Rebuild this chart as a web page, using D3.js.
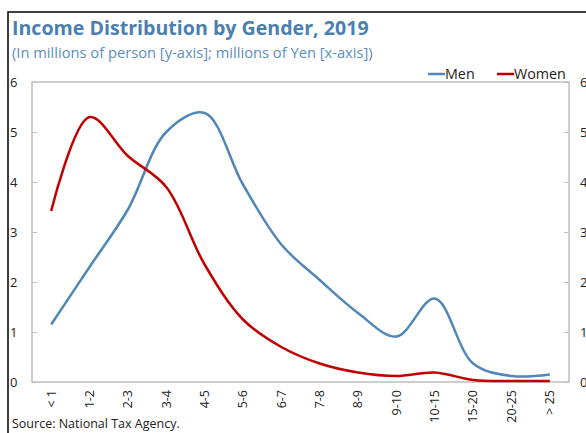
<!DOCTYPE html>
<html lang="en">
<head>
<meta charset="UTF-8">
<title>Income Distribution by Gender, 2019</title>
<script src="https://cdn.jsdelivr.net/npm/d3@7"></script>
<style>
  body { margin: 0; background: #fff; }
  svg { font-family: "Open Sans", "Noto Sans", sans-serif; }
</style>
</head>
<body>
<svg id="chart" width="586" height="433"></svg>
<script>
const categories = ["< 1", "1-2", "2-3", "3-4", "4-5", "5-6", "6-7", "7-8", "8-9", "9-10", "10-15", "15-20", "20-25", "> 25"];
const men   = [1.15, 2.30, 3.45, 5.00, 5.38, 3.95, 2.75, 2.04, 1.38, 0.91, 1.67, 0.37, 0.12, 0.15];
const women = [3.42, 5.30, 4.52, 3.90, 2.35, 1.25, 0.70, 0.37, 0.19, 0.12, 0.19, 0.04, 0.02, 0.02];
const yTicks = [0, 1, 2, 3, 4, 5, 6];

const svg = d3.select("#chart");
const plot = { left: 32, right: 569, top: 82, bottom: 382 };

// outer frame (only top/left visible)
svg.append("path")
  .attr("d", "M8,433 V12 H586")
  .attr("fill", "none")
  .attr("stroke", "#000")
  .attr("stroke-width", 1.5);

// title
svg.append("text")
  .attr("x", 12).attr("y", 35)
  .attr("fill", "#4a7fb0")
  .style("font-size", "19.6px")
  .style("font-weight", "bold")
  .text("Income Distribution by Gender, 2019");

svg.append("text")
  .attr("x", 12).attr("y", 58)
  .attr("fill", "#5b8fc0")
  .style("font-size", "14.7px")
  .text("(In millions of person [y-axis]; millions of Yen [x-axis])");

const x = d3.scaleBand().domain(categories).range([plot.left, plot.right]);
const y = d3.scaleLinear().domain([0, 6]).range([plot.bottom, plot.top]);

// plot border
svg.append("rect")
  .attr("x", plot.left).attr("y", plot.top)
  .attr("width", plot.right - plot.left).attr("height", plot.bottom - plot.top)
  .attr("fill", "none").attr("stroke", "#bfbfbf").attr("stroke-width", 1.5);

// left axis
const yl = svg.append("g")
  .attr("transform", `translate(${plot.left},0)`)
  .call(d3.axisRight(y).tickValues(yTicks).tickSize(5).tickFormat(""));
yl.select(".domain").remove();
yl.selectAll("line").attr("stroke", "#bfbfbf");
svg.append("g").selectAll("text")
  .data(yTicks).join("text")
  .attr("x", 10).attr("y", d => y(d)).attr("dy", "0.35em")
  .style("font-size", "13px").attr("fill", "#222")
  .text(d => d);

// right axis
const yr = svg.append("g")
  .attr("transform", `translate(${plot.right},0)`)
  .call(d3.axisLeft(y).tickValues(yTicks).tickSize(5).tickFormat(""));
yr.select(".domain").remove();
yr.selectAll("line").attr("stroke", "#bfbfbf");
svg.append("g").selectAll("text")
  .data(yTicks).join("text")
  .attr("x", 580).attr("y", d => y(d)).attr("dy", "0.35em")
  .style("font-size", "13px").attr("fill", "#222")
  .text(d => d);

// x axis labels
const xa = svg.append("g")
  .attr("transform", `translate(0,${plot.bottom})`)
  .call(d3.axisBottom(x).tickSize(0).tickPadding(0));
xa.select(".domain").remove();
xa.selectAll("text")
  .attr("transform", "rotate(-90)")
  .attr("x", -8).attr("y", 0).attr("dy", "0.35em")
  .attr("text-anchor", "end")
  .attr("fill", "#222")
  .style("font-size", "12.5px")
  .style("font-family", "'Open Sans', sans-serif");

// lines
const line = d3.line()
  .x((d, i) => x(categories[i]) + x.bandwidth() / 2)
  .y(d => y(d))
  .curve(d3.curveCatmullRom.alpha(0.5));

svg.append("path").datum(men)
  .attr("d", line).attr("fill", "none")
  .attr("stroke", "#5087b8").attr("stroke-width", 2.5);
svg.append("path").datum(women)
  .attr("d", line).attr("fill", "none")
  .attr("stroke", "#c00000").attr("stroke-width", 2.5);

// legend
const legend = [{ name: "Men", color: "#5087b8", x: 428 }, { name: "Women", color: "#c00000", x: 497 }];
const lg = svg.append("g").selectAll("g").data(legend).join("g")
  .attr("transform", d => `translate(${d.x},74)`);
lg.append("line").attr("x1", 0).attr("x2", 17).attr("y1", 0).attr("y2", 0)
  .attr("stroke", d => d.color).attr("stroke-width", 2.5);
lg.append("text").attr("x", 17).attr("dy", "0.35em")
  .style("font-size", "14.3px").attr("fill", "#222")
  .text(d => d.name);

// source
svg.append("text")
  .attr("x", 12).attr("y", 428)
  .style("font-size", "12.5px").attr("fill", "#222")
  .text("Source: National Tax Agency.");
</script>
</body>
</html>
